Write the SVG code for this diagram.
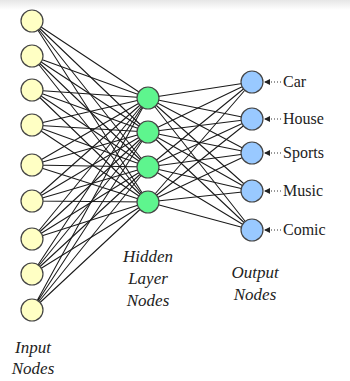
<svg xmlns="http://www.w3.org/2000/svg" width="350" height="381" viewBox="0 0 350 381">
  <defs>
    <marker id="tip" viewBox="0 0 6 6" refX="6" refY="3" markerWidth="6" markerHeight="6" markerUnits="userSpaceOnUse" orient="auto">
      <path d="M0,0 L6,3 L0,6 Z" fill="#222"/>
    </marker>
    <linearGradient id="haze" x1="0" y1="0" x2="0" y2="1">
      <stop offset="0" stop-color="#e6e6e6"/>
      <stop offset="1" stop-color="#ffffff"/>
    </linearGradient>
  </defs>
  <rect width="350" height="381" fill="#ffffff"/>
  <rect width="350" height="10" fill="url(#haze)"/>

  <g id="connectors">
    <!-- input layer to hidden layer, hidden layer to output layer -->
    <g stroke="#1a1a1a" stroke-width="1.05" fill="none">
      <path d="M32,21 L148,98 M32,21 L148,132 M32,21 L148,167 M32,21 L148,202"/>
      <path d="M32,56 L148,98 M32,56 L148,132 M32,56 L148,167 M32,56 L148,202"/>
      <path d="M32,90 L148,98 M32,90 L148,132 M32,90 L148,167 M32,90 L148,202"/>
      <path d="M32,125 L148,98 M32,125 L148,132 M32,125 L148,167 M32,125 L148,202"/>
      <path d="M32,165 L148,98 M32,165 L148,132 M32,165 L148,167 M32,165 L148,202"/>
      <path d="M32,201 L148,98 M32,201 L148,132 M32,201 L148,167 M32,201 L148,202"/>
      <path d="M32,239 L148,98 M32,239 L148,132 M32,239 L148,167 M32,239 L148,202"/>
      <path d="M32,274 L148,98 M32,274 L148,132 M32,274 L148,167 M32,274 L148,202"/>
      <path d="M32,310 L148,98 M32,310 L148,132 M32,310 L148,167 M32,310 L148,202"/>
      <path d="M148,98 L252,82 M148,98 L252,119 M148,98 L252,153 M148,98 L252,191 M148,98 L252,230"/>
      <path d="M148,132 L252,82 M148,132 L252,119 M148,132 L252,153 M148,132 L252,191 M148,132 L252,230"/>
      <path d="M148,167 L252,82 M148,167 L252,119 M148,167 L252,153 M148,167 L252,191 M148,167 L252,230"/>
      <path d="M148,202 L252,82 M148,202 L252,119 M148,202 L252,153 M148,202 L252,191 M148,202 L252,230"/>
    </g>
    <!-- class labels pointing at output nodes -->
    <g stroke="#333" stroke-width="1" stroke-dasharray="1 2" fill="none">
      <line x1="281" y1="82" x2="264" y2="82" marker-end="url(#tip)"/>
      <line x1="281" y1="119" x2="264" y2="119" marker-end="url(#tip)"/>
      <line x1="281" y1="153" x2="264" y2="153" marker-end="url(#tip)"/>
      <line x1="281" y1="191" x2="264" y2="191" marker-end="url(#tip)"/>
      <line x1="281" y1="230" x2="264" y2="230" marker-end="url(#tip)"/>
    </g>
  </g>

  <g id="input-nodes" fill="#ffffc4" stroke="#444" stroke-width="1.2">
    <g id="in1"><circle cx="32" cy="21" r="11"/></g>
    <g id="in2"><circle cx="32" cy="56" r="11"/></g>
    <g id="in3"><circle cx="32" cy="90" r="11"/></g>
    <g id="in4"><circle cx="32" cy="125" r="11"/></g>
    <g id="in5"><circle cx="32" cy="165" r="11"/></g>
    <g id="in6"><circle cx="32" cy="201" r="11"/></g>
    <g id="in7"><circle cx="32" cy="239" r="11"/></g>
    <g id="in8"><circle cx="32" cy="274" r="11"/></g>
    <g id="in9"><circle cx="32" cy="310" r="11"/></g>
  </g>

  <g id="hidden-nodes" fill="#5ef58e" stroke="#444" stroke-width="1.2">
    <g id="h1"><circle cx="148" cy="98" r="11"/></g>
    <g id="h2"><circle cx="148" cy="132" r="11"/></g>
    <g id="h3"><circle cx="148" cy="167" r="11"/></g>
    <g id="h4"><circle cx="148" cy="202" r="11"/></g>
  </g>

  <g id="output-nodes">
    <g id="out-car"><circle cx="252" cy="82" r="11" fill="#99c9ff" stroke="#444" stroke-width="1.2"/><text font-family="Liberation Serif" font-size="16" fill="#222" x="283" y="87">Car</text></g>
    <g id="out-house"><circle cx="252" cy="119" r="11" fill="#99c9ff" stroke="#444" stroke-width="1.2"/><text font-family="Liberation Serif" font-size="16" fill="#222" x="283" y="124">House</text></g>
    <g id="out-sports"><circle cx="252" cy="153" r="11" fill="#99c9ff" stroke="#444" stroke-width="1.2"/><text font-family="Liberation Serif" font-size="16" fill="#222" x="283" y="158">Sports</text></g>
    <g id="out-music"><circle cx="252" cy="191" r="11" fill="#99c9ff" stroke="#444" stroke-width="1.2"/><text font-family="Liberation Serif" font-size="16" fill="#222" x="283" y="196">Music</text></g>
    <g id="out-comic"><circle cx="252" cy="230" r="11" fill="#99c9ff" stroke="#444" stroke-width="1.2"/><text font-family="Liberation Serif" font-size="16" fill="#222" x="283" y="235">Comic</text></g>
  </g>

  <g id="captions">
    <text font-family="Liberation Serif" font-style="italic" font-size="17" fill="#222" text-anchor="middle" x="33" y="353">Input</text>
    <text font-family="Liberation Serif" font-style="italic" font-size="17" fill="#222" text-anchor="middle" x="33" y="374">Nodes</text>
    <text font-family="Liberation Serif" font-style="italic" font-size="17" fill="#222" text-anchor="middle" x="148" y="262">Hidden</text>
    <text font-family="Liberation Serif" font-style="italic" font-size="17" fill="#222" text-anchor="middle" x="148" y="284">Layer</text>
    <text font-family="Liberation Serif" font-style="italic" font-size="17" fill="#222" text-anchor="middle" x="148" y="306">Nodes</text>
    <text font-family="Liberation Serif" font-style="italic" font-size="17" fill="#222" text-anchor="middle" x="255" y="278">Output</text>
    <text font-family="Liberation Serif" font-style="italic" font-size="17" fill="#222" text-anchor="middle" x="255" y="300">Nodes</text>
  </g>
</svg>
